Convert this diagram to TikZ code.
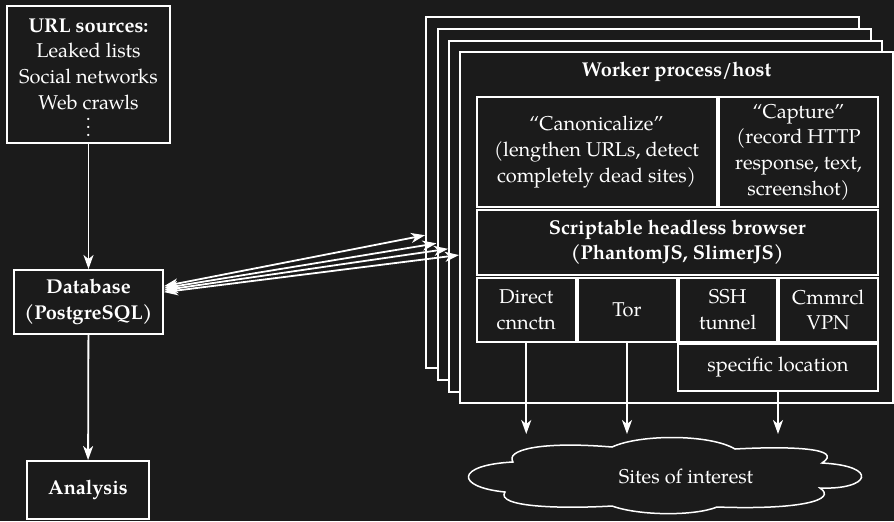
\documentclass[tikz,border=0pt]{standalone}
\usepackage{fontspec}
\setmainfont{TeX Gyre Pagella}
\usetikzlibrary{arrows.meta,calc}
\definecolor{bgc}{RGB}{27,27,27}
\begin{document}
\begin{tikzpicture}[x=0.5pt,y=-0.5pt,
  every node/.style={font=\fontsize{10}{12.8}\selectfont, text=white},
  box/.style={draw=white, line width=1pt, fill=bgc, inner sep=0pt, align=center},
  cell/.style={box},
  conn/.style={draw=white, line width=0.9pt, -{Stealth[length=7pt,width=5pt,inset=2pt]}},
  dbl/.style={draw=white, line width=0.9pt, {Stealth[length=7pt,width=5pt,inset=2pt]}-{Stealth[length=7pt,width=5pt,inset=2pt]}},
  cloudline/.style={draw=white, line width=0.75pt, fill=bgc}
]
\useasboundingbox (0,0) rectangle (894,521);
\fill[bgc] (0,0) rectangle (894,521);

% left column
\node[box, minimum width=81.5pt, minimum height=68.5pt] (url) at (88.5,74.5)
  {\rule{0pt}{10pt}\textbf{URL sources:}\\Leaked lists\\Social networks\\Web crawls\\[-2.5pt]$\vdots$};
\node[box, minimum width=74.5pt, minimum height=32pt] (db) at (88.5,302)
  {\textbf{Database}\\\textbf{(PostgreSQL)}};
\node[box, minimum width=61pt, minimum height=29pt] (ana) at (88,490)
  {\textbf{Analysis}};

\draw[conn] (url) -- (db);
\draw[conn] (db) -- (ana);

% stacked workers
\node[box, minimum width=216.5pt, minimum height=175.5pt] (w1) at (642.5,192.5) {};
\node[box, minimum width=216.5pt, minimum height=175.5pt] (w2) at (654,204.5) {};
\node[box, minimum width=216.5pt, minimum height=175.5pt] (w3) at (665.5,216) {};
\node[box, minimum width=216.5pt, minimum height=175.5pt] (w4) at (676.5,227.5) {};

\node (title) at (676.5,72) {\textbf{Worker process/host}};

\node[cell, minimum width=120pt, minimum height=55pt] (canon) at (596.5,152)
  {“Canonicalize”\\(lengthen URLs, detect\\completely dead sites)};
\node[cell, minimum width=79.5pt, minimum height=55pt] (capture) at (798.5,152)
  {“Capture”\\(record HTTP\\response, text,\\screenshot)};
\node[cell, minimum width=200.75pt, minimum height=32.75pt] (browser) at (677.25,242.25)
  {\textbf{Scriptable headless browser}\\\textbf{(PhantomJS, SlimerJS)}};
\node[cell, minimum width=49.75pt, minimum height=32.25pt] (direct) at (526.25,309.75)
  {Direct\\cnnctn};
\node[cell, minimum width=49.5pt, minimum height=32.25pt] (tor) at (627,309.75)
  {Tor};
\node[cell, minimum width=49.25pt, minimum height=32.25pt] (ssh) at (727.75,309.75)
  {SSH\\tunnel};
\node[cell, minimum width=49.75pt, minimum height=32.25pt] (cmm) at (828.25,309.75)
  {Cmmrcl\\VPN};
\node[cell, minimum width=100pt, minimum height=23.75pt] (spec) at (778,367.25)
  {specific location};

% db <-> workers
\draw[dbl] ($(db.north east)!0.26!(db.south east)$) -- ($(w1.north west)!0.621!(w1.south west)$);
\draw[dbl] ($(db.north east)!0.29!(db.south east)$) -- ($(w2.north west)!0.61!(w2.south west)$);
\draw[dbl] ($(db.north east)!0.32!(db.south east)$) -- ($(w3.north west)!0.593!(w3.south west)$);
\draw[dbl] ($(db.north east)!0.35!(db.south east)$) -- ($(w4.north west)!0.578!(w4.south west)$);

% cloud
\draw[cloudline] (513,462)
  .. controls (505,450) and (540,441) .. (612,447)
  .. controls (640,434) and (710,434) .. (735,449)
  .. controls (790,446) and (845,448) .. (822,463)
  .. controls (880,466) and (870,490) .. (820,488)
  .. controls (838,500) and (800,510) .. (717,507)
  .. controls (695,516) and (640,516) .. (612,506)
  .. controls (560,509) and (495,507) .. (505,492)
  .. controls (455,487) and (455,465) .. cycle;
\node (sites) at (686,476) {Sites of interest};

\coordinate (e1) at (526.25,434);
\coordinate (e2) at (627,434);
\coordinate (e3) at (778,434);
\draw[conn] (direct) -- (e1);
\draw[conn] (tor) -- (e2);
\draw[conn] (spec) -- (e3);
\end{tikzpicture}
\end{document}
